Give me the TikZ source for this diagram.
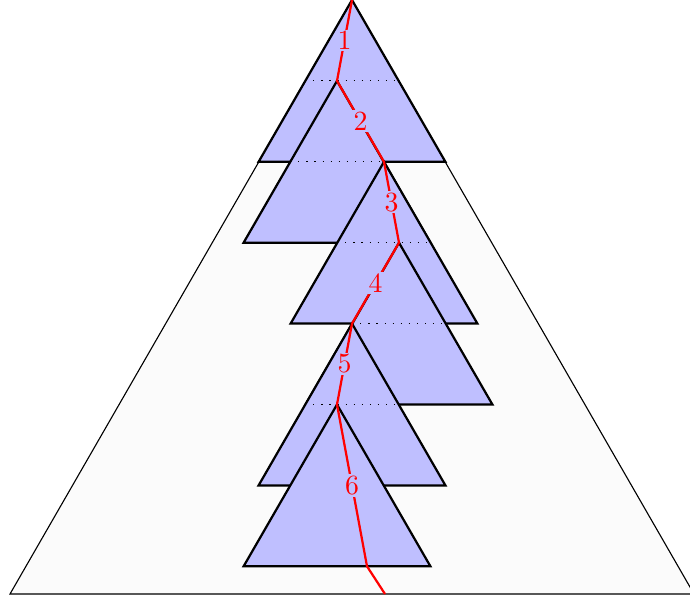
\documentclass[tikz,border=0pt]{standalone}
\begin{document}
\begin{tikzpicture}[x=0.36pt,y=-0.36pt,
  bigtri/.style={draw=black, fill=black!1.5, line width=0.4pt},
  bluetri/.style={draw=black, fill=blue!25, thick},
  levelline/.style={line width=0.4pt, dash pattern=on 0.4pt off 2.5pt},
  redpath/.style={red, thick},
  steplabel/.style={fill=blue!25, text=red, inner sep=0.6pt}]
\useasboundingbox (0,0) rectangle (690,601);
% path points
\coordinate (p0) at (352,0);
\coordinate (p1) at (337,80.9);
\coordinate (p2) at (384,161.8);
\coordinate (p3) at (399,242.7);
\coordinate (p4) at (352,323.6);
\coordinate (p5) at (337,404.5);
\coordinate (p6) at (367,566.3);
\coordinate (p7) at (385,594);
% big triangle
\path[bigtri] (p0) -- (10,594) -- (694,594) -- cycle;
% blue triangles with level lines
\path[bluetri] (p0) -- ++(-93.4,161.8) -- ++(186.8,0) -- cycle;
\draw[levelline] (305.3,80.9) -- (398.7,80.9);
\path[bluetri] (p1) -- ++(-93.4,161.8) -- ++(186.8,0) -- cycle;
\draw[levelline] (290.3,161.8) -- (383.7,161.8);
\path[bluetri] (p2) -- ++(-93.4,161.8) -- ++(186.8,0) -- cycle;
\draw[levelline] (337.3,242.7) -- (430.7,242.7);
\path[bluetri] (p3) -- ++(-93.4,161.8) -- ++(186.8,0) -- cycle;
\draw[levelline] (352.3,323.6) -- (445.7,323.6);
\path[bluetri] (p4) -- ++(-93.4,161.8) -- ++(186.8,0) -- cycle;
\draw[levelline] (305.3,404.5) -- (398.7,404.5);
\path[bluetri] (p5) -- ++(-93.4,161.8) -- ++(186.8,0) -- cycle;
% red path
\draw[redpath] (p0) -- node[steplabel] (l1) {1} (p1)
  -- node[steplabel] (l2) {2} (p2)
  -- node[steplabel] (l3) {3} (p3)
  -- node[steplabel] (l4) {4} (p4)
  -- node[steplabel] (l5) {5} (p5)
  -- node[steplabel] (l6) {6} (p6)
  -- (p7);
\end{tikzpicture}
\end{document}
